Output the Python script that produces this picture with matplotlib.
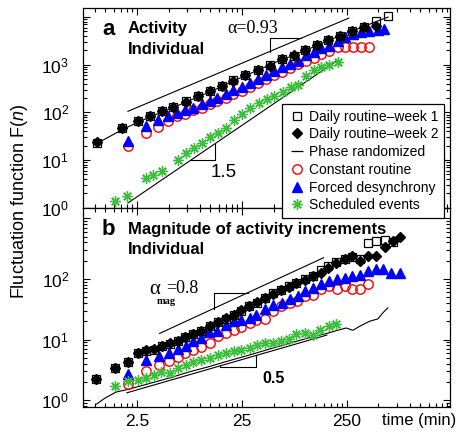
import numpy as np
import matplotlib
matplotlib.use("Agg")
import matplotlib.pyplot as plt
from matplotlib.lines import Line2D
from matplotlib.ticker import FixedLocator, FixedFormatter, NullFormatter

plt.rcParams['font.family'] = ['Liberation Sans', 'DejaVu Sans']
plt.rcParams['mathtext.fontset'] = 'custom'
plt.rcParams['mathtext.rm'] = 'Liberation Sans'
plt.rcParams['mathtext.it'] = 'Liberation Sans:italic'
plt.rcParams['mathtext.bf'] = 'Liberation Sans:bold'

# ---- panel a: activity ----
n_week_a = [1.03, 1.8, 2.55, 3.33, 4.34, 5.53, 7.36, 9.6, 12.5, 16.3, 20.7, 27.0,
            35.2, 45.8, 59.7, 78, 99, 129, 164, 214, 280, 364, 470, 617]
F_week1_a = [23, 46, 65, 82, 105, 127, 171, 217, 277, 353, 472, 601,
             766, 976, 1310, 1510, 2020, 2570, 3280, 3980, 5070, 6160, 8240, 10500]
F_week2_a = [24, 47, 66, 84, 108, 130, 168, 222, 285, 360, 465, 610,
             790, 960, 1330, 1560, 2060, 2620, 3350, 4100, 5200, 6300, 6500]
F_phase_a = [22, 43, 62, 80, 102, 126, 165, 212, 272, 350, 455, 590,
             760, 980, 1280, 1560, 1980, 2500, 3200, 4000, 5100, 6300, 8000, 10000]

n_const_a = [2.05, 3.05, 3.97, 4.95, 6.04, 7.2, 8.6, 10.5, 12.5, 14.6, 17.8, 20.7,
             25.3, 30.1, 35.2, 42, 50, 59.7, 71.3, 84.9, 101, 121, 141, 168,
             205, 239, 285, 340, 406]
F_const_a = [20, 36, 49.5, 65, 82, 91, 110, 126, 147, 173, 204, 239,
             281, 341, 422, 495, 601, 719, 873, 1025, 1200, 1370, 1660, 1950,
             2300, 2300, 2300, 2370, 2370]
n_forced_a = n_const_a + [495, 565]
F_forced_a = [24.5, 52, 68, 82, 95, 110, 126, 147, 173, 204, 239, 290,
              341, 422, 495, 601, 740, 899, 1025, 1200, 1585, 1806, 2193, 2489,
              3170, 3740, 4385, 4765, 5150, 5325, 5630]
n_sched_a = [1.54, 2.01, 3.05, 3.56, 4.34, 6.17, 7.36, 8.78, 10.5, 12.5, 14.9, 17.8,
             21.2, 25.3, 30.1, 36, 42.9, 50, 61.1, 72.8, 84.9, 101, 121, 141, 168, 205]
F_sched_a = [1.40, 1.79, 4.08, 4.72, 6.0, 9.76, 13.7, 17.5, 22.3, 29.8, 36, 48,
             68, 91, 121, 155, 188, 217, 264, 336, 370, 573, 766, 886, 976, 1129]

# ---- panel b: magnitude of increments ----
n_week_b = [1.02, 1.53, 2.05, 2.56, 3.07, 3.61, 4.33, 5.12, 6.15, 7.11, 8.54, 10.2,
            12.3, 14.8, 17.5, 20.8, 24.6, 29.2, 34.8, 41.7, 49.4, 59.2, 70.1, 82.3,
            98.9, 119, 141, 165, 198, 238, 281, 330, 396, 469, 571, 686, 794]
F_week1_b = [2.23, 3.44, 4.33, 6.1, 6.51, 6.77, 7.68, 8.42, 9.55, 10.8, 12.3, 14.0,
             16.5, 19.5, 21.9, 25.8, 30.1, 35.5, 40.4, 48.9, 59.2, 64.7, 76.3, 86.8,
             98.5, 112, 139, 162, 189, 217, 228, 212, 390, 421, 438, 405]
F_week2_b = [2.23, 3.44, 4.33, 6.1, 6.6, 6.9, 7.68, 8.6, 9.55, 11.0, 12.5, 14.0,
             16.8, 19.5, 22.3, 25.8, 30.5, 35.5, 41.0, 48.9, 57, 64.7, 74, 86.8,
             95, 112, 127, 154, 180, 217, 240, 196, 237, 240, 331, 421, 491]
n_phase_b = [1.03, 1.24, 1.58, 2.05, 3.0, 5.0, 8.0, 12, 20, 30, 50, 80, 120, 161,
             198, 246, 285, 330, 411, 493, 551, 614]
F_phase_b = [0.86, 1.08, 1.36, 1.50, 1.80, 2.30, 2.95, 3.55, 4.6, 5.6, 7.3, 9.2,
             11.2, 12.6, 14.0, 15.5, 14.2, 16.5, 20.0, 21.9, 27.6, 33.4]

n_const_b = [2.05, 3.05, 4.05, 5.05, 6.15, 7.16, 8.54, 10.2, 12.4, 14.8, 17.6, 21.0,
             24.5, 29.8, 34.0, 41.4, 49.4, 58.8, 71.6, 83.5, 99.5, 119, 141, 169,
             201, 239, 279, 333, 396]
F_const_b = [1.84, 3.03, 3.81, 4.44, 5.18, 6.04, 6.77, 7.59, 8.85, 11.6, 13.0, 14.6,
             16.3, 19.0, 21.3, 22.2, 29.0, 36.4, 39.3, 42.5, 53, 55, 67, 75,
             67, 75, 67, 67, 81]
n_forced_b = [2.05, 3.05, 4.05, 5.05, 6.15, 7.3, 8.54, 10.2, 12.1, 14.5, 17.6, 21.0,
              24.5, 29.8, 34.0, 41.4, 49.4, 60.1, 71.6, 85.3, 99.5, 119, 141, 169,
              201, 239, 279, 333, 396, 472, 551, 656, 800]
F_forced_b = [2.67, 4.62, 5.38, 5.97, 7.03, 7.68, 9.55, 10.6, 13.3, 14.0, 17.6, 20.0,
              20.8, 22.8, 25.8, 31.3, 37.8, 40.4, 45.8, 52.0, 63.0, 71.7, 81.3, 92.3,
              98.5, 105, 112, 116, 135, 148, 144, 127, 127]
n_sched_b = [1.53, 2.05, 2.56, 3.03, 3.61, 4.26, 5.12, 6.15, 7.27, 8.54, 10.2, 12.3,
             14.8, 17.5, 20.8, 24.6, 29.6, 34.8, 41.7, 49.4, 59.2, 70.1, 82.3, 98.9,
             119, 139, 167, 198]
F_sched_b = [1.71, 2.07, 2.15, 2.35, 2.60, 2.88, 2.78, 3.44, 3.81, 4.23, 4.62, 4.93,
             5.59, 5.97, 6.51, 6.77, 7.22, 7.98, 8.75, 8.75, 9.55, 10.2, 12.3, 12.8,
             12.0, 14.6, 16.5, 18.1]

# scaling guide lines F = F0 * (n / n0) ** alpha, drawn from n1 to n2
guide_a_hi = dict(alpha=0.93, n0=2.05, F0=105, n1=2.05, n2=261)
guide_a_lo = dict(alpha=1.5, n0=2.05, F0=1.25, n1=2.05, n2=205)
guide_b_hi = dict(alpha=0.8, n0=4.11, F0=12.6, n1=4.11, n2=150)
guide_b_lo = dict(alpha=0.5, n0=2.0, F0=1.32, n1=2.0, n2=161)

labels = ['Daily routine\u2013week 1', 'Daily routine\u2013week 2', 'Phase randomized',
          'Constant routine', 'Forced desynchrony', 'Scheduled events']

W, H = 457, 432
GREEN = '#3dbf3d'


def fx(px):
    return px / W


def fy(py):
    return 1 - py / H


def power(g, n):
    n = np.asarray(n, dtype=float)
    return g['F0'] * (n / g['n0']) ** g['alpha']


def inv_power(g, F):
    return g['n0'] * (F / g['F0']) ** (1.0 / g['alpha'])


def draw_guide(ax, g):
    n = np.array([g['n1'], g['n2']])
    ax.plot(n, power(g, n), color='k', lw=0.8, zorder=2)


fig = plt.figure(figsize=(4.57, 4.32), dpi=100)
ax_a = fig.add_axes([fx(83), fy(208), (450 - 83) / W, 200 / H])
ax_b = fig.add_axes([fx(83), fy(407), (450 - 83) / W, 199 / H])

mk = dict(ls='none')
sq = dict(marker='s', ms=6, mfc='none', mec='k', mew=0.9)
di = dict(marker='D', ms=4.6, color='k', mec='k')
ci = dict(marker='o', ms=6.8, mfc='none', mec='#ff0000', mew=1.0)
tr = dict(marker='^', ms=6.8, color='#0000ff', mec='#0000ff')
st = dict(marker=(8, 2, 0), ms=7.5, color=GREEN, mew=1.0)

# panel a
ax_a.plot(n_week_a, F_phase_a, color='k', lw=0.8, zorder=2)
ax_a.plot(n_const_a, F_const_a, zorder=3, **ci, **mk)
ax_a.plot(n_forced_a, F_forced_a, zorder=4, **tr, **mk)
ax_a.plot(n_week_a, F_week1_a, zorder=5, **sq, **mk)
ax_a.plot(n_week_a[:len(F_week2_a)], F_week2_a, zorder=6, **di, **mk)
ax_a.plot(n_sched_a, F_sched_a, zorder=4, **st, **mk)
draw_guide(ax_a, guide_a_hi)
draw_guide(ax_a, guide_a_lo)

# slope triangle above the 0.93 line
t_n, t_F = 45.8, 3610
ax_a.plot([t_n, t_n, inv_power(guide_a_hi, t_F)],
          [power(guide_a_hi, t_n), t_F, t_F], color='k', lw=0.8)
# slope triangle below the 1.5 line
t_F, t_n = 9.76, 13.7
ax_a.plot([inv_power(guide_a_lo, t_F), t_n, t_n],
          [t_F, t_F, power(guide_a_lo, t_n)], color='k', lw=0.8)

# panel b
ax_b.plot(n_phase_b, F_phase_b, color='k', lw=0.8, zorder=2)
ax_b.plot(n_const_b, F_const_b, zorder=3, **ci, **mk)
ax_b.plot(n_forced_b, F_forced_b, zorder=4, **tr, **mk)
ax_b.plot(n_week_b[:len(F_week1_b)], F_week1_b, zorder=5, **sq, **mk)
ax_b.plot(n_week_b, F_week2_b, zorder=6, **di, **mk)
ax_b.plot(n_sched_b, F_sched_b, zorder=4, **st, **mk)
draw_guide(ax_b, guide_b_hi)
draw_guide(ax_b, guide_b_lo)

t_n, t_F = 13.4, 59.2
ax_b.plot([t_n, t_n, inv_power(guide_b_hi, t_F)],
          [power(guide_b_hi, t_n), t_F, t_F], color='k', lw=0.8)
t_n1, t_n2, t_F = 15.3, 34.2, 3.57
ax_b.plot([t_n1, t_n1, t_n2, t_n2],
          [power(guide_b_lo, t_n1), t_F, t_F, power(guide_b_lo, t_n2)], color='k', lw=0.8)

# axes, ticks
x_major = [2.5, 25, 250, 2500]
x_minor = [2.5 * m * 10.0 ** k for k in (-1, 0, 1, 2) for m in range(2, 10)]
for ax, ylim, ymaj, ylab in [
        (ax_a, (0.98, 15500), [1, 10, 100, 1000, 10000],
         ['$10^0$', '$10^1$', '$10^2$', '$10^3$', '']),
        (ax_b, (0.77, 1480), [1, 10, 100, 1000],
         ['$10^0$', '$10^1$', '$10^2$', ''])]:
    ax.set_xscale('log')
    ax.set_yscale('log')
    ax.set_xlim(0.765, 2400)
    ax.set_ylim(*ylim)
    ax.xaxis.set_major_locator(FixedLocator(x_major))
    ax.xaxis.set_minor_locator(FixedLocator(x_minor))
    ax.xaxis.set_major_formatter(FixedFormatter(['2.5', '25', '250', '2500']))
    ax.xaxis.set_minor_formatter(NullFormatter())
    ax.yaxis.set_major_locator(FixedLocator(ymaj))
    ax.yaxis.set_major_formatter(FixedFormatter(ylab))
    ax.yaxis.set_minor_formatter(NullFormatter())
    ax.tick_params(which='both', direction='in', top=True, right=True, width=0.8)
    ax.tick_params(which='major', length=5, labelsize=12.5)
    ax.tick_params(which='minor', length=2.8)
    ax.tick_params(axis='y', which='major', pad=10)
    ax.tick_params(axis='x', which='major', pad=5)
    for s in ax.spines.values():
        s.set_linewidth(0.9)
ax_a.tick_params(axis='x', labelbottom=False)

# texts
fig.text(fx(102), fy(35), 'a', fontsize=16, fontweight='bold')
fig.text(fx(128), fy(32.5), 'Activity', fontsize=12, fontweight='bold')
fig.text(fx(128), fy(54.5), 'Individual', fontsize=12, fontweight='bold')
fig.text(fx(227), fy(33), '\u03b1=0.93', fontsize=13, family='Liberation Serif')
fig.text(fx(211), fy(177), '1.5', fontsize=13.5)

fig.text(fx(102), fy(235), 'b', fontsize=16, fontweight='bold')
fig.text(fx(128), fy(234), 'Magnitude of activity increments', fontsize=12, fontweight='bold')
fig.text(fx(128), fy(254), 'Individual', fontsize=12, fontweight='bold')
fig.text(fx(149), fy(294), '\u03b1', fontsize=15, family='Liberation Serif')
fig.text(fx(157), fy(304), 'mag', fontsize=7.5, family='Liberation Serif', fontweight='bold')
fig.text(fx(166), fy(293), '=0.8', fontsize=13, family='Liberation Serif')
fig.text(fx(262), fy(383), '0.5', fontsize=11.5, fontweight='bold')

fig.text(fx(382), fy(425), 'time (min)', fontsize=12)
fig.text(fx(20), fy(201), 'Fluctuation function F($n$)', fontsize=13,
         rotation=90, ha='center', va='center')

# legend
handles = [Line2D([], [], ls='none', **sq),
           Line2D([], [], ls='none', **di),
           Line2D([], [], ls='none', marker='_', ms=8, mew=0.9, color='k'),
           Line2D([], [], ls='none', **ci),
           Line2D([], [], ls='none', **tr),
           Line2D([], [], ls='none', **st)]
leg = fig.legend(handles, labels, loc='upper left', bbox_to_anchor=(fx(282), fy(104)),
                 borderaxespad=0, frameon=True, fancybox=False, framealpha=1,
                 edgecolor='k', fontsize=10, handlelength=1.4, handletextpad=0.15,
                 labelspacing=0.27, borderpad=0.4)
leg.get_frame().set_linewidth(0.9)

fig.savefig('out.png', dpi=100)
